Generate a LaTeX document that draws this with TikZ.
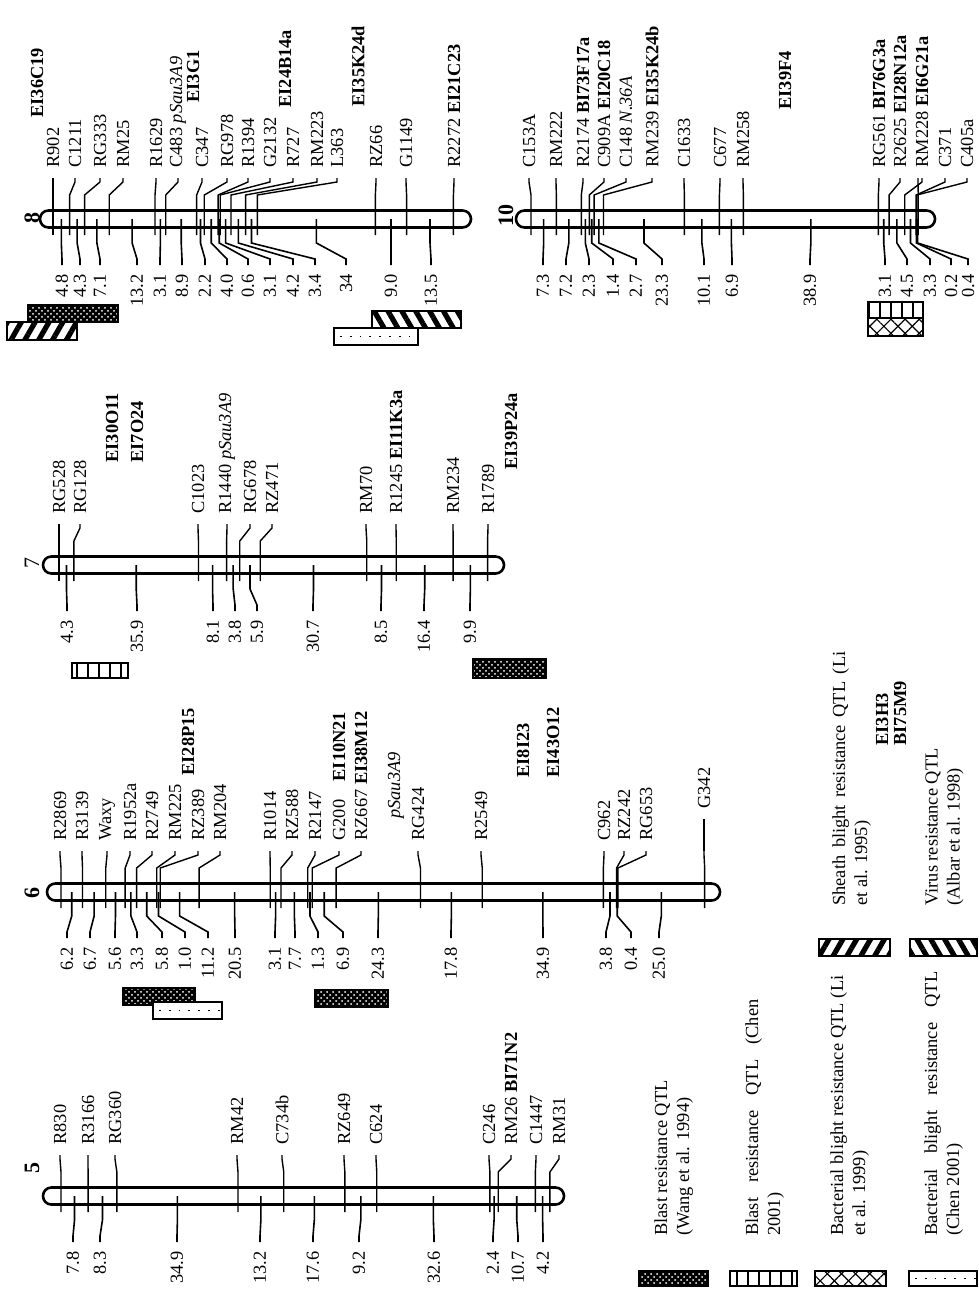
\documentclass[tikz,border=0pt]{standalone}
\usepackage{fontspec}
\setmainfont{Liberation Serif}
\usetikzlibrary{patterns,patterns.meta}

\tikzset{
  chrbar/.style={line width=1.3pt, rounded corners=4.2pt},
  mtick/.style={line width=0.7pt},
  itick/.style={line width=0.8pt},
  mlabel/.style={rotate=90, anchor=west, inner xsep=5pt, inner ysep=0pt},
  dlabel/.style={rotate=90, anchor=east, inner xsep=4.5pt, inner ysep=0pt},
  flabel/.style={rotate=90, anchor=west, inner sep=0pt},
  chrnum/.style={rotate=90, inner sep=0pt, font=\fontsize{11}{12}\selectfont\bfseries},
  qtlframe/.style={postaction={draw, line width=1pt}},
  wang/.style={fill=black, postaction={pattern=crosshatch dots, pattern color=white}, qtlframe},
  chen/.style={fill=white, postaction={pattern={Lines[angle=90, distance=5.5pt, line width=0.9pt]}}, qtlframe},
  lixx/.style={fill=white, postaction={pattern={Lines[angle=45, distance=5pt, line width=0.6pt]}},
    postaction={pattern={Lines[angle=-45, distance=5pt, line width=0.6pt]}}, qtlframe},
  chdot/.style={fill=white, path picture={\draw[line width=0.9pt, dash pattern=on 0.9pt off 4pt]
    ([xshift=3pt]path picture bounding box.west) -- (path picture bounding box.east);}, qtlframe},
  sheath/.style={fill=white, postaction={pattern={Lines[angle=60, distance=6pt, line width=2.6pt]}}, qtlframe},
  virus/.style={fill=white, postaction={pattern={Lines[angle=-60, distance=6pt, line width=2.6pt]}}, qtlframe},
  legtext/.style={rotate=90, anchor=north west, inner sep=0pt, text width=#1, align=justify},
  legtext/.default=128pt,
}

% #1 prefix, #2 first marker x, #3 bar centre y, #4/#5 bar ends, #6 markers
\newcommand\chrom[6]{%
  \draw[chrbar] (#4,#3-8.5) rectangle (#5,#3+8.5);
  \foreach \cm/\lx/\txt/\nx/\dtxt [count=\i, remember=\cm as \cp (initially 0)] in {#6}{
    \pgfmathsetmacro\mx{#2+3.47*\cm}
    \node[mlabel] (#1m\i) at (\lx,#3-41) {\txt};
    \draw[mtick] (\mx,#3+16) -- (\mx,#3-24) -- (\lx,#3-37) -- (#1m\i.west);
    \ifnum\i>1
      \pgfmathsetmacro\ix{#2+3.47*(\cm+\cp)/2}
      \node[dlabel] (#1d\i) at (\nx,#3+46) {\dtxt};
      \draw[itick] (\ix,#3) -- (\ix,#3+24) -- (\nx,#3+40) -- (#1d\i.east);
    \fi
  }%
}

\begin{document}
\begin{tikzpicture}[x=0.5pt, y=-0.5pt, font=\fontsize{9.2}{11}\selectfont]
\useasboundingbox (0,0) rectangle (979,1295);

% chromosome 8
\node[chrnum] (n8) at (32,218) {8};
\chrom{a}{53}{219}{40}{471}{0/53/R902/0/x,
  4.8/75/C1211/62/4.8,
  9.1/100/RG333/80/4.3,
  16.2/123/RM25/100/7.1,
  29.4/156/R1629/137/13.2,
  32.5/178/C483 \textit{pSau3A9}/160/3.1,
  41.4/202/C347/182/8.9,
  43.6/227/RG978/205/2.2,
  47.6/248/R1394/227/4.0,
  48.2/270/G2132/248/0.6,
  51.3/293/R727/270/3.1,
  55.5/317/RM223/293/4.2,
  58.9/337/L363/315/3.4,
  92.9/376/RZ66/346/34,
  101.9/406/G1149/391/9.0,
  115.4/454/R2272 \textbf{EI21C23}/431/13.5}
\node[flabel] (ei36c19) at (37,118) {\textbf{EI36C19}};
\node[flabel] (ei3g1) at (193,103) {\textbf{EI3G1}};
\node[flabel] (ei24b14a) at (285,108) {\textbf{EI24B14a}};
\node[flabel] (ei35k24d) at (358,107) {\textbf{EI35K24d}};

% chromosome 10
\node[chrnum] (n10) at (506,215) {10};
\chrom{b}{531}{219}{516}{935}{0/529/C153A/0/x,
  7.3/556/RM222/543/7.3,
  14.5/583/R2174 \textbf{BI73F17a}/566/7.2,
  16.8/604/C909A \textbf{EI20C18}/589/2.3,
  18.2/626/C148 \textit{N.36A}/613/1.4,
  20.9/652/RM239 \textbf{EI35K24b}/636/2.7,
  44.2/684/C1633/662/23.3,
  54.3/720/C677/704/10.1,
  61.2/743/RM258/732/6.9,
  100.1/879/RG561 \textbf{BI76G3a}/810/38.9,
  103.2/900/R2625 \textbf{EI28N12a}/885/3.1,
  107.7/922/RM228 \textbf{EI6G21a}/907/4.5,
  111.0/945/C371/930/3.3,
  111.2/967/C405a/951/0.2,
  111.6/918/{}/968/0.4}
\node[flabel] (ei39f4) at (785,110) {\textbf{EI39F4}};

% chromosome 7
\node[chrnum, font=\fontsize{11}{12}\selectfont] (n7) at (32,563) {7};
\chrom{c}{59}{565}{43}{504}{0/59/RG528/0/x,
  4.3/80/RG128/67/4.3,
  40.2/198/C1023/137/35.9,
  48.3/227/R1440 \textit{pSau3A9}/213/8.1,
  52.1/250/RG678/235/3.8,
  58.0/272/RZ471/257/5.9,
  88.7/366/RM70/313/30.7,
  97.2/396/R1245 \textbf{EI11K3a}/381/8.5,
  113.6/453/RM234/424/16.4,
  123.5/488/R1789/470/9.9}
\node[flabel] (ei30o11) at (112,463) {\textbf{EI30O11}};
\node[flabel] (ei7o24) at (137,463) {\textbf{EI7O24}};
\node[flabel] (ei39p24a) at (511,470) {\textbf{EI39P24a}};

% chromosome 6
\node[chrnum] (n6) at (32,893) {6};
\chrom{d}{61}{892}{47}{720}{0/60/R2869/0/x,
  6.2/82/R3139/67/6.2,
  12.9/107/Waxy/90/6.7,
  18.5/130/R1952a/115/5.6,
  21.8/152/R2749/137/3.3,
  27.6/175/RM225/162/5.8,
  28.6/198/RZ389/185/1.0,
  39.8/220/RM204/208/11.2,
  60.3/270/R1014/235/20.5,
  63.4/292/RZ588/275/3.1,
  71.1/315/R2147/295/7.7,
  72.4/339/G200\quad\textbf{EI10N21}/318/1.3,
  79.3/361/RZ667 \textbf{EI38M12}/343/6.9,
  103.6/418/RG424/378/24.3,
  121.4/481/R2549/451/17.8,
  156.3/604/C962/543/34.9,
  160.1/624/RZ242/606/3.8,
  160.5/646/RG653/631/0.4,
  185.5/704/{}/659/25.0}
\node[mlabel] (g342) at (704,819) {G342};
\draw[mtick] (dm19.west) -- (g342.west);
\node[flabel] (ei28p15) at (188,776) {\textbf{EI28P15}};
\node[flabel] (psau6) at (396,819) {\textit{pSau3A9}};
\node[flabel] (ei8i23) at (523,778) {\textbf{EI8I23}};
\node[flabel] (ei43o12) at (553,778) {\textbf{EI43O12}};
\node[flabel] (ei3h3) at (882,746) {\textbf{EI3H3}};
\node[flabel] (bi75m9) at (900,746) {\textbf{BI75M9}};

% chromosome 5
\node[chrnum] (n5) at (32,1168) {5};
\chrom{e}{61}{1196}{43}{564}{0/60/R830/0/x,
  7.8/88/R3166/73/7.8,
  16.1/115/RG360/100/8.3,
  51.0/237/RM42/177/34.9,
  64.2/282/C734b/260/13.2,
  81.8/344/RZ649/313/17.6,
  91.0/376/C624/359/9.2,
  123.6/489/C246/434/32.6,
  126.0/511/RM26 \textbf{BI71N2}/493/2.4,
  136.7/536/C1447/518/10.7,
  140.9/559/RM31/543/4.2}

% QTL on the chromosomes
\path[wang] (28,305) rectangle (118,322);
\path[sheath] (7,322) rectangle (77,340);
\path[virus] (372,311) rectangle (461,328);
\path[chdot] (334,328) rectangle (418,345);
\path[chen] (868,302) rectangle (923,318);
\path[lixx] (868,318) rectangle (923,336);
\path[chen] (72,663) rectangle (128,678);
\path[wang] (473,659) rectangle (546,678);
\path[wang] (123,988) rectangle (195,1005);
\path[chdot] (153,1002) rectangle (222,1019);
\path[wang] (315,990) rectangle (388,1007);

% legend
\path[sheath] (819,939) rectangle (890,956);
\node[legtext=127pt] (lgsheath) at (832,906) {Sheath blight resistance QTL (Li\linebreak et al. 1995)};
\path[virus] (910,939) rectangle (977,956);
\node[legtext] (lgvirus) at (925,906) {Virus resistance QTL\\(Albar et al. 1998)};
\path[wang] (639,1271) rectangle (708,1286);
\node[legtext] (lgwang) at (654,1236) {Blast resistance QTL\\(Wang et al. 1994)};
\path[chen] (730,1271) rectangle (797,1286);
\node[legtext=118pt] (lgchen) at (745,1236) {Blast resistance QTL (Chen\linebreak 2001)};
\path[lixx] (815,1271) rectangle (886,1286);
\node[legtext=130pt] (lgli) at (830,1236) {Bacterial blight resistance QTL (Li\linebreak et al. 1999)};
\path[chdot] (909,1271) rectangle (977,1286);
\node[legtext=132pt] (lgbact) at (924,1236) {Bacterial blight resistance QTL\linebreak (Chen 2001)};
\end{tikzpicture}
\end{document}
